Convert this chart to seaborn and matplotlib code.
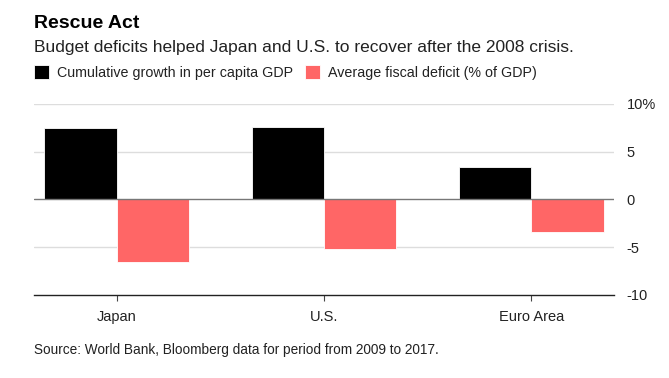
import pandas as pd
import numpy as np
import matplotlib.pyplot as plt
import seaborn as sns

# data
regions = ['Japan', 'U.S.', 'Euro Area']
growth = [7.5, 7.6, 3.4]
deficit = [-6.5, -5.2, -3.4]
series = ['Cumulative growth in per capita GDP', 'Average fiscal deficit (% of GDP)']
colors = ['#000000', '#ff6666']

df = pd.DataFrame({
    'region': regions * 2,
    'value': growth + deficit,
    'series': [series[0]] * 3 + [series[1]] * 3,
})

sns.set_style('white')
plt.rcParams['font.family'] = ['Liberation Sans', 'DejaVu Sans']

fig = plt.figure(figsize=(6.69, 3.78), dpi=100)
ax = fig.add_axes([34 / 669, 0.2196, 580 / 669, 0.5053])

sns.barplot(data=df, x='region', y='value', hue='series', palette=colors,
            width=0.7, saturation=1, ax=ax, legend=True)
for p in ax.patches:
    p.set_edgecolor('white')
    p.set_linewidth(0.6)

ax.set_xlim(-0.4, 2.4)
ax.set_ylim(-10, 10)
ax.set_yticks([-10, -5, 0, 5, 10])
ax.set_yticklabels(['-10', '-5', '0', '5', '10%'])
ax.yaxis.tick_right()
ax.set_xlabel('')
ax.set_ylabel('')
for y in [5, 10, -5]:
    ax.axhline(y, color='#dddddd', lw=1, zorder=0)
ax.axhline(0, color='#777777', lw=1, zorder=3)
for s in ['top', 'left', 'right']:
    ax.spines[s].set_visible(False)
ax.spines['bottom'].set_color('#222222')
ax.spines['bottom'].set_linewidth(1)
ax.tick_params(axis='y', length=0, pad=9, labelsize=10.5, labelcolor='#222222')
ax.tick_params(axis='x', length=4, width=0.8, color='#444444', pad=7,
               labelsize=10.5, labelcolor='#222222', bottom=True)

handles, labels = ax.get_legend_handles_labels()
ax.get_legend().remove()
fig.legend(handles, labels, loc='upper left', bbox_to_anchor=(34 / 669, 0.827),
           ncol=2, frameon=False, fontsize=10.3, handlelength=1.05, handleheight=1.05,
           handletextpad=0.55, columnspacing=0.85, borderpad=0, borderaxespad=0,
           labelcolor='#222222')

fig.text(34 / 669, 0.925, 'Rescue Act', fontsize=14, fontweight='bold', color='#000000')
fig.text(34 / 669, 0.862, 'Budget deficits helped Japan and U.S. to recover after the 2008 crisis.',
         fontsize=12.5, color='#222222')
fig.text(34 / 669, 0.063, 'Source: World Bank, Bloomberg data for period from 2009 to 2017.',
         fontsize=9.8, color='#222222')

fig.savefig('out.png', dpi=100)
